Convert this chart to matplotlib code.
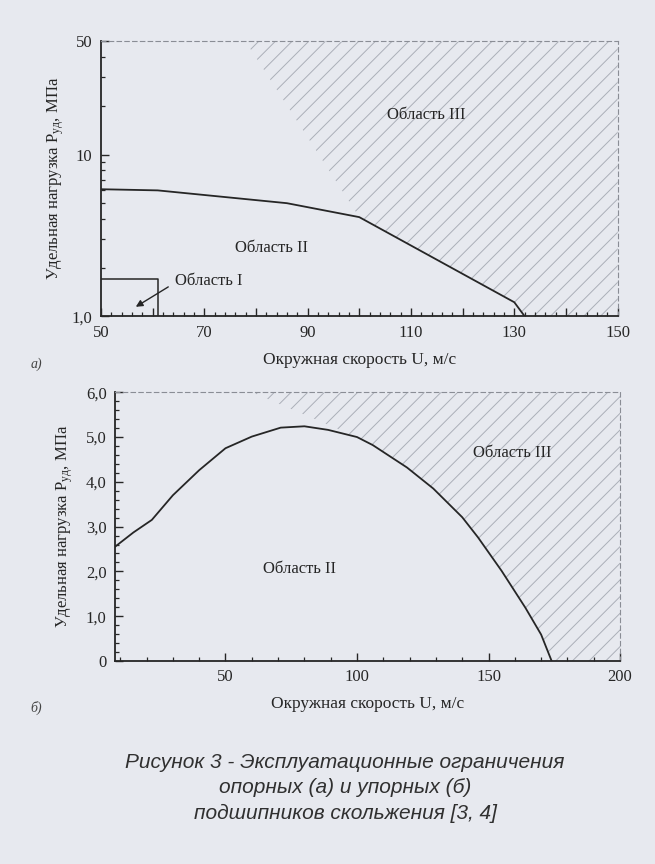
import numpy as np
import matplotlib
matplotlib.use('Agg')
import matplotlib.pyplot as plt
from matplotlib.ticker import FixedLocator, MultipleLocator, FuncFormatter, NullFormatter

plt.rcParams['font.family'] = ['Liberation Serif', 'DejaVu Serif']
plt.rcParams['mathtext.fontset'] = 'custom'
plt.rcParams['mathtext.rm'] = 'Liberation Serif'
plt.rcParams['mathtext.it'] = 'Liberation Serif:italic'
plt.rcParams['hatch.linewidth'] = 0.7

# --- a) journal bearings (log scale) ---
u_a = [50, 61, 86, 100, 130, 132]
p_a = [6.1, 6.0, 5.0, 4.1, 1.22, 1.0]
box_u = [50, 61, 61]          # "Область I" box
box_p = [1.7, 1.7, 1.0]
hatch_a_start = (78, 50)       # left edge of hatched area at top
xticks_a = [50, 70, 90, 110, 130, 150]

# --- b) thrust bearings ---
u_b = [8, 15, 22, 30, 40, 50, 60, 71, 80, 89, 100, 106, 119, 129, 140, 146,
       155, 164, 170, 174]
p_b = [2.55, 2.87, 3.15, 3.7, 4.26, 4.75, 5.01, 5.21, 5.24, 5.16, 5.0, 4.82,
       4.32, 3.85, 3.21, 2.76, 2.01, 1.19, 0.59, 0.0]
hatch_b_start = (60, 6.0)
xticks_b = [50, 100, 150, 200]
yticks_b = [0, 1, 2, 3, 4, 5, 6]

bg = '#e7e9ef'
ink = '#262626'
hatch_col = '#abafb8'

fig = plt.figure(figsize=(6.55, 8.64), dpi=100, facecolor=bg)

ylab = 'Удельная нагрузка P$_{\\mathrm{уд}}$, МПа'
xlab = 'Окружная скорость U, м/с'


def style_axes(ax):
    ax.set_facecolor('none')
    for s in ['left', 'bottom']:
        ax.spines[s].set_color(ink)
        ax.spines[s].set_linewidth(1.3)
    for s in ['top', 'right']:
        ax.spines[s].set_color('#8a8d95')
        ax.spines[s].set_linewidth(0.8)
        ax.spines[s].set_linestyle((0, (4, 3)))
    ax.tick_params(which='both', direction='in', colors=ink, top=False, right=False)
    ax.tick_params(which='major', length=6, width=1.0, labelsize=12, pad=6)
    ax.tick_params(which='minor', length=3, width=0.9)


# ---------- a ----------
ax1 = fig.add_axes([0.154, 0.634, 0.789, 0.318])
ax1.set_yscale('log')
ax1.set_xlim(50, 150)
ax1.set_ylim(1, 50)

# hatched region III
i0 = u_a.index(100)
poly_u = [hatch_a_start[0], 150, 150] + u_a[::-1][:len(u_a) - i0]
poly_p = [hatch_a_start[1], 50, 1.0] + p_a[::-1][:len(u_a) - i0]
ax1.fill(poly_u, poly_p, facecolor='none', edgecolor=hatch_col, hatch='//', linewidth=0)

ax1.plot(u_a, p_a, color=ink, lw=1.3)
ax1.plot(box_u, box_p, color=ink, lw=1.1)
ax1.annotate('', xy=(56.3, 1.12), xytext=(63.5, 1.55),
             arrowprops=dict(arrowstyle='-|>', color=ink, lw=1.0, mutation_scale=10))
ax1.text(64.3, 1.64, 'Область I', fontsize=12, color=ink, va='center')
ax1.text(83, 2.66, 'Область II', fontsize=12, color=ink, ha='center', va='center')
ax1.text(113, 17.5, 'Область III', fontsize=12, color=ink, ha='center', va='center')

style_axes(ax1)
ax1.xaxis.set_major_locator(MultipleLocator(10))
ax1.xaxis.set_minor_locator(MultipleLocator(2))
ax1.xaxis.set_major_formatter(FuncFormatter(lambda v, p: '%d' % v if int(round(v)) in xticks_a else ''))
ax1.yaxis.set_major_locator(FixedLocator([1, 10, 50]))
ax1.yaxis.set_minor_locator(FixedLocator([2, 3, 4, 5, 6, 7, 8, 9, 20, 30, 40]))
ax1.yaxis.set_major_formatter(FuncFormatter(lambda v, p: {1: '1,0', 10: '10', 50: '50'}.get(int(round(v)), '')))
ax1.yaxis.set_minor_formatter(NullFormatter())
ax1.set_xlabel(xlab, fontsize=12.5, color=ink, labelpad=8)
ax1.set_ylabel(ylab, fontsize=12, color=ink, labelpad=4)

# ---------- b ----------
ax2 = fig.add_axes([0.1756, 0.235, 0.771, 0.311])
ax2.set_xlim(8, 200)
ax2.set_ylim(0, 6)

j0 = u_b.index(100)
poly_u = [hatch_b_start[0], 200, 200] + u_b[::-1][:len(u_b) - j0]
poly_p = [hatch_b_start[1], 6.0, 0.0] + p_b[::-1][:len(u_b) - j0]
ax2.fill(poly_u, poly_p, facecolor='none', edgecolor=hatch_col, hatch='//', linewidth=0)

ax2.plot(u_b, p_b, color=ink, lw=1.3)
ax2.text(159, 4.64, 'Область III', fontsize=12, color=ink, ha='center', va='center')
ax2.text(78, 2.05, 'Область II', fontsize=12, color=ink, ha='center', va='center')

style_axes(ax2)
ax2.xaxis.set_major_locator(FixedLocator(xticks_b))
ax2.xaxis.set_minor_locator(MultipleLocator(10))
ax2.yaxis.set_major_locator(FixedLocator(yticks_b))
ax2.yaxis.set_minor_locator(MultipleLocator(0.2))
ax2.yaxis.set_major_formatter(FuncFormatter(lambda v, p: '0' if v == 0 else ('%.1f' % v).replace('.', ',')))
ax2.set_xlabel(xlab, fontsize=12.5, color=ink, labelpad=8)
ax2.set_ylabel(ylab, fontsize=12, color=ink, labelpad=8)

fig.text(0.046, 0.574, 'а)', fontsize=10, style='italic', color='#444444')
fig.text(0.046, 0.176, 'б)', fontsize=10, style='italic', color='#444444')

cap = ('Рисунок 3 - Эксплуатационные ограничения\n'
       'опорных (а) и упорных (б)\n'
       'подшипников скольжения [3, 4]')
fig.text(0.527, 0.088, cap, fontsize=15, style='italic', ha='center', va='center',
         color='#303030', family=['Liberation Sans', 'DejaVu Sans'], linespacing=1.4)

fig.savefig('out.png', dpi=100, facecolor=bg)
